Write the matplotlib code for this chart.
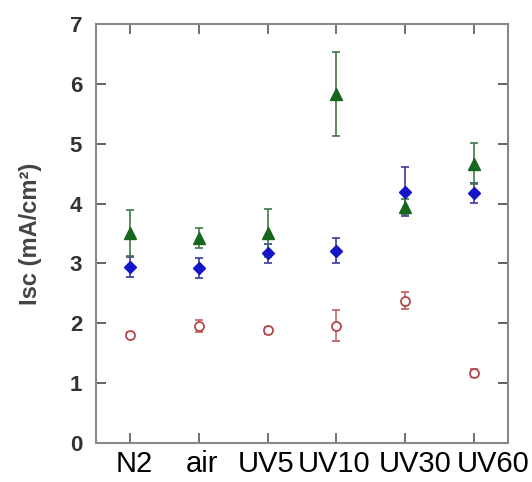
import numpy as np
from matplotlib import pyplot as plt
from matplotlib import transforms

plt.rcParams['font.family'] = ['Liberation Sans', 'DejaVu Sans']

samples = ["N2", "air", "UV5", "UV10", "UV30", "UV60"]

# green triangles
tri_vals = [3.51, 3.42, 3.51, 5.83, 3.95, 4.67]
tri_err = [0.38, 0.17, 0.40, 0.70, 0.13, 0.34]
# blue diamonds
dia_vals = [2.94, 2.92, 3.17, 3.21, 4.20, 4.18]
dia_err = [0.16, 0.17, 0.16, 0.21, 0.41, 0.17]
# red open circles
circ_vals = [1.81, 1.95, 1.88, 1.96, 2.38, 1.17]
circ_err = [0.05, 0.10, 0.06, 0.26, 0.14, 0.07]

x = np.arange(len(samples))

fig = plt.figure(figsize=(5.32, 4.82), dpi=100)
ax = fig.add_axes([0.1805, 0.081, 0.7745, 0.869])

ax.errorbar(x, circ_vals, yerr=circ_err, fmt='o', ms=6.5, mfc='white', mec='#b5464a',
            mew=1.3, ecolor='#c46a6a', elinewidth=1.2, capsize=3, capthick=1.2)
ax.errorbar(x, dia_vals, yerr=dia_err, fmt='D', ms=6.5, color='#1414c8', mec='#1414c8',
            ecolor='#3a3aa0', elinewidth=1.2, capsize=3, capthick=1.2)
ax.errorbar(x, tri_vals, yerr=tri_err, fmt='^', ms=8.5, color='#17661f', mec='#17661f',
            ecolor='#3f7a45', elinewidth=1.2, capsize=3, capthick=1.2)

ax.set_xlim(-0.5, 5.5)
ax.set_ylim(0, 7)
ax.set_yticks(range(0, 8))
ax.set_xticks(x)
ax.set_xticklabels(samples, fontsize=21, color='black')
for lab in ax.get_yticklabels():
    lab.set_fontweight('bold')
ax.tick_params(axis='y', labelsize=16, colors='#555555', labelcolor='#333333',
               direction='in', length=7, width=1.3, right=True, pad=10)
ax.tick_params(axis='x', colors='#666666', labelcolor='black',
               direction='in', length=7, width=1.3, top=True, pad=5)

# the x labels in the original sit a little off their ticks (pixels)
label_shift = [4, 3, -2, -2, 10, 19]
for lab, dx in zip(ax.get_xticklabels(), label_shift):
    lab.set_transform(lab.get_transform() +
                      transforms.ScaledTranslation(dx / 100, 0, fig.dpi_scale_trans))

for sp in ax.spines.values():
    sp.set_color('#888888')
    sp.set_linewidth(1.5)

ax.set_ylabel('Isc (mA/cm²)', fontsize=17, fontweight='bold', color='#444444', labelpad=20)

plt.savefig('out.png', dpi=100)
